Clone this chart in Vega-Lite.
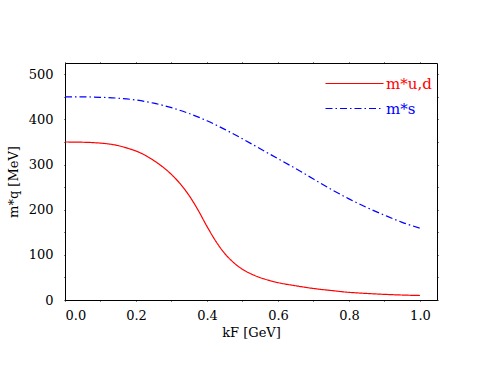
{
  "$schema": "https://vega.github.io/schema/vega-lite/v6.json",
  "width": 372,
  "height": 237,
  "autosize": "none",
  "padding": {"left": 65, "top": 63, "right": 42, "bottom": 70},
  "background": "white",
  "config": {
    "view": {"stroke": "#000", "strokeWidth": 1},
    "font": "DejaVu Serif",
    "axis": {
      "domain": false,
      "grid": false,
      "labelFont": "DejaVu Serif",
      "labelFontSize": 13,
      "labelColor": "#000",
      "titleFont": "DejaVu Serif",
      "titleFontSize": 13,
      "titleFontWeight": "normal",
      "titleColor": "#000",
      "tickColor": "#000",
      "tickWidth": 1,
      "tickSize": 1
    }
  },
  "data": {
    "values": [
      {"k": 0.0, "m": 350, "s": "m*u,d"},
      {"k": 0.05, "m": 349.5, "s": "m*u,d"},
      {"k": 0.1, "m": 347.5, "s": "m*u,d"},
      {"k": 0.125, "m": 345.5, "s": "m*u,d"},
      {"k": 0.15, "m": 342, "s": "m*u,d"},
      {"k": 0.175, "m": 336.5, "s": "m*u,d"},
      {"k": 0.2, "m": 330, "s": "m*u,d"},
      {"k": 0.225, "m": 321, "s": "m*u,d"},
      {"k": 0.25, "m": 309, "s": "m*u,d"},
      {"k": 0.275, "m": 295, "s": "m*u,d"},
      {"k": 0.3, "m": 278, "s": "m*u,d"},
      {"k": 0.325, "m": 257, "s": "m*u,d"},
      {"k": 0.35, "m": 231, "s": "m*u,d"},
      {"k": 0.375, "m": 199, "s": "m*u,d"},
      {"k": 0.4, "m": 163, "s": "m*u,d"},
      {"k": 0.425, "m": 130, "s": "m*u,d"},
      {"k": 0.45, "m": 103, "s": "m*u,d"},
      {"k": 0.475, "m": 83, "s": "m*u,d"},
      {"k": 0.5, "m": 68, "s": "m*u,d"},
      {"k": 0.525, "m": 57.5, "s": "m*u,d"},
      {"k": 0.55, "m": 49.5, "s": "m*u,d"},
      {"k": 0.575, "m": 43.5, "s": "m*u,d"},
      {"k": 0.6, "m": 38.5, "s": "m*u,d"},
      {"k": 0.65, "m": 31.5, "s": "m*u,d"},
      {"k": 0.7, "m": 25.5, "s": "m*u,d"},
      {"k": 0.75, "m": 21, "s": "m*u,d"},
      {"k": 0.8, "m": 17, "s": "m*u,d"},
      {"k": 0.85, "m": 14.5, "s": "m*u,d"},
      {"k": 0.9, "m": 12.5, "s": "m*u,d"},
      {"k": 0.95, "m": 11, "s": "m*u,d"},
      {"k": 1.0, "m": 10, "s": "m*u,d"},
      {"k": 0.0, "m": 450, "s": "m*s"},
      {"k": 0.05, "m": 450, "s": "m*s"},
      {"k": 0.1, "m": 449, "s": "m*s"},
      {"k": 0.15, "m": 447, "s": "m*s"},
      {"k": 0.2, "m": 443, "s": "m*s"},
      {"k": 0.25, "m": 436, "s": "m*s"},
      {"k": 0.3, "m": 426, "s": "m*s"},
      {"k": 0.35, "m": 413, "s": "m*s"},
      {"k": 0.4, "m": 397, "s": "m*s"},
      {"k": 0.45, "m": 378, "s": "m*s"},
      {"k": 0.5, "m": 357, "s": "m*s"},
      {"k": 0.55, "m": 335, "s": "m*s"},
      {"k": 0.6, "m": 313, "s": "m*s"},
      {"k": 0.65, "m": 291, "s": "m*s"},
      {"k": 0.7, "m": 268, "s": "m*s"},
      {"k": 0.75, "m": 245, "s": "m*s"},
      {"k": 0.8, "m": 224, "s": "m*s"},
      {"k": 0.85, "m": 205, "s": "m*s"},
      {"k": 0.9, "m": 188, "s": "m*s"},
      {"k": 0.95, "m": 172, "s": "m*s"},
      {"k": 1.0, "m": 159, "s": "m*s"}
    ]
  },
  "layer": [
    {
      "mark": {"type": "line", "interpolate": "monotone", "strokeWidth": 1.2},
      "encoding": {
        "x": {
          "field": "k", "type": "quantitative",
          "scale": {"domain": [0, 1.048], "nice": false, "zero": false},
          "axis": {
            "orient": "bottom",
            "title": "kF [GeV]",
            "values": [0, 0.1, 0.2, 0.3, 0.4, 0.5, 0.6, 0.7, 0.8, 0.9, 1.0],
            "labelExpr": "abs(datum.value*5 - round(datum.value*5)) < 0.001 ? format(datum.value, '.1f') : ''",
            "labelPadding": 8,
            "titlePadding": 4,
            "encode": {"ticks": {"update": {"y2": {"signal": "abs(datum.value*5 - round(datum.value*5)) < 0.001 ? -7 : -4"}}}}
          }
        },
        "y": {
          "field": "m", "type": "quantitative",
          "scale": {"domain": [0, 525], "nice": false},
          "axis": {
            "orient": "left",
            "title": "m*q [MeV]",
            "values": [0, 50, 100, 150, 200, 250, 300, 350, 400, 450, 500],
            "labelExpr": "datum.value % 100 == 0 ? datum.value : ''",
            "labelPadding": 11,
            "titlePadding": 8,
            "encode": {"ticks": {"update": {"x2": {"signal": "datum.value % 100 == 0 ? 7 : 4"}}}}
          }
        },
        "color": {
          "field": "s", "type": "nominal",
          "scale": {"domain": ["m*u,d", "m*s"], "range": ["#ff0000", "#0000ff"]},
          "legend": {
            "title": null,
            "orient": "none",
            "legendX": 282,
            "legendY": 13,
            "padding": 0,
            "symbolType": "M-8,0H8",
            "symbolSize": 52.6,
            "symbolStrokeWidth": 1.2,
            "labelFont": "DejaVu Serif",
            "labelFontSize": 15,
            "labelOffset": 24,
            "rowPadding": 9,
            "encode": {"labels": {"update": {"fill": {"scale": "color", "field": "value"}}}}
          }
        },
        "strokeDash": {
          "field": "s", "type": "nominal",
          "scale": {"domain": ["m*u,d", "m*s"], "range": [[1, 0], [7, 3, 1.5, 3]]},
          "legend": null
        }
      }
    },
    {
      "mark": {"type": "line", "interpolate": "monotone", "opacity": 0},
      "encoding": {
        "x": {
          "field": "k", "type": "quantitative",
          "axis": {
            "orient": "top",
            "title": null,
            "labels": false,
            "values": [0, 0.1, 0.2, 0.3, 0.4, 0.5, 0.6, 0.7, 0.8, 0.9, 1.0],
            "encode": {"ticks": {"update": {"y2": {"signal": "abs(datum.value*5 - round(datum.value*5)) < 0.001 ? 7 : 4"}}}}
          }
        },
        "y": {
          "field": "m", "type": "quantitative",
          "axis": {
            "orient": "right",
            "title": null,
            "labels": false,
            "values": [0, 50, 100, 150, 200, 250, 300, 350, 400, 450, 500],
            "encode": {"ticks": {"update": {"x2": {"signal": "datum.value % 100 == 0 ? -7 : -4"}}}}
          }
        },
        "detail": {"field": "s", "type": "nominal"}
      }
    }
  ],
  "resolve": {"axis": {"x": "independent", "y": "independent"}}
}
